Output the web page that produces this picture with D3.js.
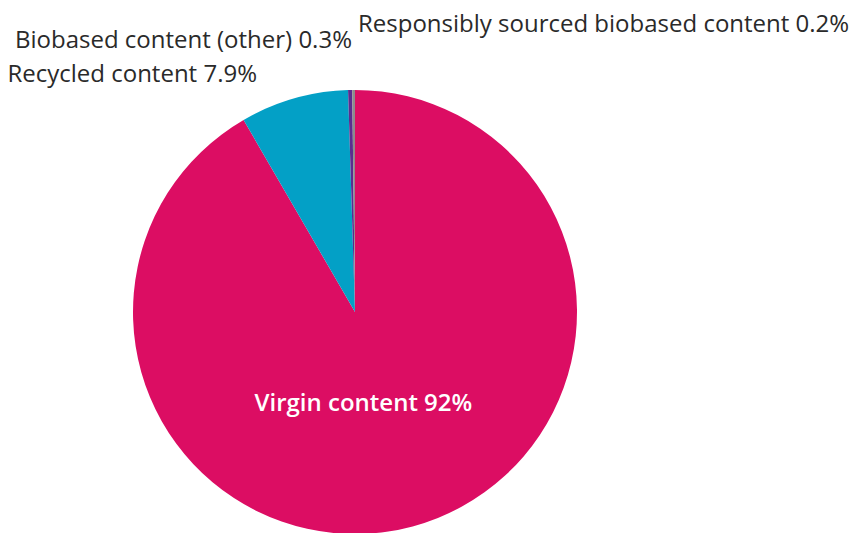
<!DOCTYPE html>
<html>
<head>
<meta charset="utf-8">
<script src="https://cdn.jsdelivr.net/npm/d3@7"></script>
<style>
  html, body { margin: 0; padding: 0; background: #fff; }
  svg { display: block; font-family: "Open Sans", "Noto Sans", sans-serif; }
</style>
</head>
<body>
<svg id="chart" width="851" height="533"></svg>
<script>
// Material content shares (percent)
const categories = [
  "Virgin content",
  "Recycled content",
  "Biobased content (other)",
  "Responsibly sourced biobased content"
];
const values = [92, 7.9, 0.3, 0.2];
const labels = ["92%", "7.9%", "0.3%", "0.2%"];
const colors = ["#dc0d63", "#03a0c6", "#5b2d8f", "#8c8c8c"];

const width = 851, height = 533;
const cx = 355, cy = 312, radius = 222;

const svg = d3.select("#chart");
const g = svg.append("g").attr("transform", `translate(${cx},${cy})`);

const data = categories.map((c, i) => ({ name: c, value: values[i], label: labels[i], color: colors[i] }));

const pie = d3.pie().sort(null).value(d => d.value)
  .startAngle(0).endAngle(2 * Math.PI);
const arcs = pie(data);
const arc = d3.arc().innerRadius(0).outerRadius(radius);

g.selectAll("path.slice")
  .data(arcs)
  .join("path")
  .attr("class", "slice")
  .attr("d", arc)
  .attr("fill", d => d.data.color);

// Big slice: label inside, white
const inside = arcs[0];
const insideAngle = 174.7 * Math.PI / 180;
const insideR = radius * 0.41;
g.append("text")
  .attr("x", insideR * Math.sin(insideAngle))
  .attr("y", -insideR * Math.cos(insideAngle))
  .attr("text-anchor", "middle")
  .attr("dy", "0.35em")
  .attr("fill", "#ffffff")
  .attr("font-size", 24)
  .attr("font-weight", 600)
  .text(`${inside.data.name} ${inside.data.label}`);

// Small slices: labels outside, stacked above the top of the pie
const outside = [
  { idx: 3, x: 358 - cx, y: 32 - cy, anchor: "start" },
  { idx: 2, x: 352 - cx, y: 48 - cy, anchor: "end" },
  { idx: 1, x: 257 - cx, y: 82 - cy, anchor: "end" }
];
outside.forEach(o => {
  const d = arcs[o.idx].data;
  g.append("text")
    .attr("x", o.x)
    .attr("y", o.y)
    .attr("text-anchor", o.anchor)
    .attr("fill", "#2a2a2a")
    .attr("font-size", 24)
    .text(`${d.name} ${d.label}`);
});
</script>
</body>
</html>
